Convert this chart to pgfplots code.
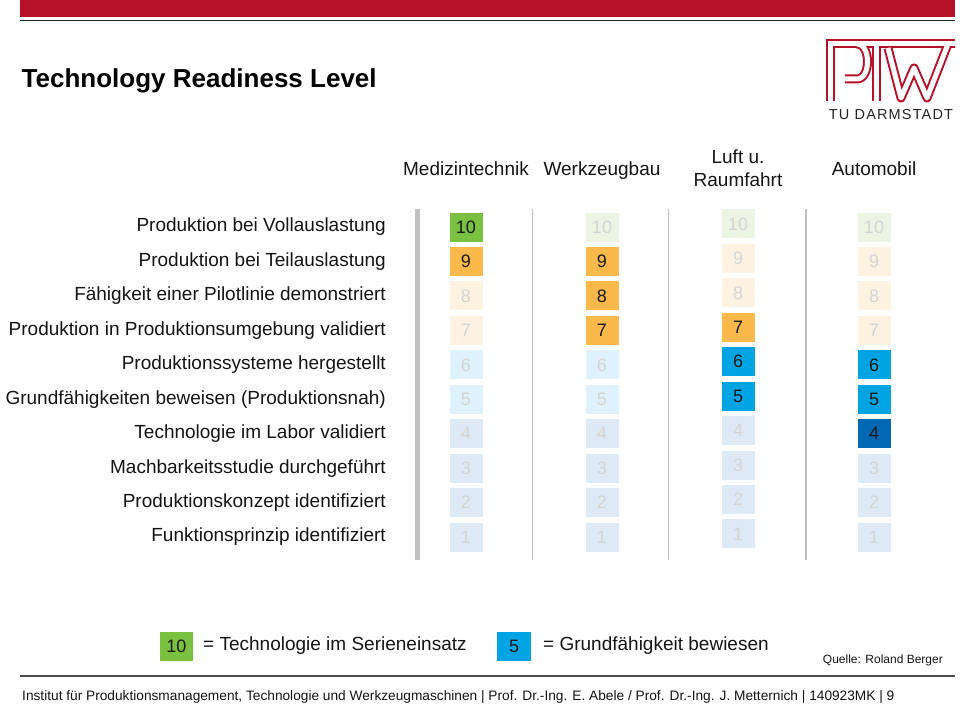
\documentclass[border=0pt]{standalone}
\usepackage{pgfplots}
\pgfplotsset{compat=1.18}
\usepackage{pgfplotstable}
\usepackage{fontspec}
\setmainfont{Liberation Sans}
\newfontfamily\tufont[LetterSpace=8]{Liberation Sans}
\definecolor{tured}{RGB}{181,18,42}
\definecolor{cg}{RGB}{122,193,66}
\definecolor{co}{RGB}{251,184,75}
\definecolor{cc}{RGB}{0,164,226}
\definecolor{cb}{RGB}{0,104,180}
\definecolor{cgf}{RGB}{236,245,228}
\definecolor{cof}{RGB}{254,243,226}
\definecolor{ccf}{RGB}{222,241,252}
\definecolor{cbf}{RGB}{221,233,244}
\definecolor{ftxt}{RGB}{212,212,212}
\definecolor{atxt}{RGB}{25,25,25}
\definecolor{sepc}{RGB}{192,192,192}
\definecolor{lbl}{RGB}{20,20,20}

% tiles: column, drawn position, level, colour class k
% k: 0 green, 1 orange, 2 cyan, 3 blue (active); 4-7 the same, faded
\pgfplotstableread{
col ypos level k
1 10 10 0
1 9 9 1
1 8 8 5
1 7 7 5
1 6 6 6
1 5 5 6
1 4 4 7
1 3 3 7
1 2 2 7
1 1 1 7
2 10 10 4
2 9 9 1
2 8 8 1
2 7 7 1
2 6 6 6
2 5 5 6
2 4 4 7
2 3 3 7
2 2 2 7
2 1 1 7
3 10.09 10 4
3 9.09 9 5
3 8.09 8 5
3 7.09 7 1
3 6.09 6 2
3 5.09 5 2
3 4.09 4 7
3 3.09 3 7
3 2.09 2 7
3 1.09 1 7
4 10 10 4
4 9 9 5
4 8 8 5
4 7 7 5
4 6 6 2
4 5 5 2
4 4 4 3
4 3 3 7
4 2 2 7
4 1 1 7
}\tiles

\pgfplotsset{tileplot/.style n args={3}{only marks, mark=none,
  x filter/.expression={\thisrow{k}==#1 ? x : nan},
  point meta=\thisrow{level},
  nodes near coords,
  every node near coord/.append style={anchor=center, inner sep=0pt,
    minimum width=33pt, minimum height=29pt, fill=#2, text=#3,
    font=\fontsize{18}{20}\selectfont}}}

\newcommand\logopaths[1]{%
  \draw[#1, line join=miter] (830pt,-101pt) -- (830pt,-44pt) -- (955pt,-44pt);
  \draw[#1, line join=round] (845pt,-79pt) -- (857pt,-79pt) .. controls (871pt,-79pt) and (871pt,-44pt) .. (857pt,-44pt);
  \draw[#1] (876pt,-44pt) -- (876pt,-101pt);
  \draw[#1, line join=round] (888pt,-48pt) -- (901pt,-98pt) -- (914pt,-68pt) -- (927pt,-98pt) -- (948pt,-44pt);}

\begin{document}
\begin{tikzpicture}
\useasboundingbox (0pt,0pt) rectangle (960pt,-706pt);
% header bar
\fill[tured] (20pt,0pt) rectangle (955pt,-17pt);
\draw[line width=1.6pt, black!85] (20pt,-20.5pt) -- (955pt,-20.5pt);
% title
\node[anchor=base west, inner sep=0pt, font=\fontsize{26}{30}\selectfont\bfseries] at (21.5pt,-88pt) {Technology Readiness Level};
% logo (outlined strokes)
\logopaths{tured, line width=9pt, line cap=butt}
\logopaths{white, line width=5pt, line cap=butt}
\node[anchor=base, inner sep=0pt, font=\tufont\fontsize{14.5}{16}\selectfont, text=black!85] at (891pt,-120pt) {TU DARMSTADT};
% separators
\draw[sepc, line width=5pt] (417.5pt,-209pt) -- (417.5pt,-560pt);
\draw[sepc, line width=1.8pt] (532.5pt,-209pt) -- (532.5pt,-560pt);
\draw[sepc, line width=1.8pt] (668.5pt,-209pt) -- (668.5pt,-560pt);
\draw[sepc, line width=1.8pt] (806pt,-209pt) -- (806pt,-560pt);
% two-line column header
\node[align=center, anchor=center, inner sep=0pt, font=\fontsize{19}{23}\selectfont, text=lbl] at (738pt,-168.5pt) {Luft u.\\Raumfahrt};

\begin{axis}[
  at={(398pt,-554.22pt)}, anchor=south west,
  x=136pt, y=34.44pt,
  xmin=0.5, xmax=4.5, ymin=0.5, ymax=10.5,
  axis line style={draw=none}, tick style={draw=none},
  major tick length=0pt,
  clip=false,
  /pgf/number format/assume math mode=true,
  xtick={1,2,4},
  xticklabels={Medizintechnik,Werkzeugbau,Automobil},
  xticklabel pos=upper,
  xticklabel style={anchor=base, yshift=34.8pt, inner sep=0pt,
    font=\fontsize{19}{23}\selectfont, text=lbl},
  ytick={1,2,3,4,5,6,7,8,9,10},
  yticklabels={Funktionsprinzip identifiziert,Produktionskonzept identifiziert,Machbarkeitsstudie durchgeführt,Technologie im Labor validiert,Grundfähigkeiten beweisen (Produktionsnah),Produktionssysteme hergestellt,Produktion in Produktionsumgebung validiert,Fähigkeit einer Pilotlinie demonstriert,Produktion bei Teilauslastung,Produktion bei Vollauslastung},
  yticklabel style={anchor=east, inner sep=0pt, xshift=-12pt,
    font=\fontsize{19}{23}\selectfont, text=lbl},
]
\addplot[tileplot={4}{cgf}{ftxt}] table[x=col, y=ypos] {\tiles};
\addplot[tileplot={5}{cof}{ftxt}] table[x=col, y=ypos] {\tiles};
\addplot[tileplot={6}{ccf}{ftxt}] table[x=col, y=ypos] {\tiles};
\addplot[tileplot={7}{cbf}{ftxt}] table[x=col, y=ypos] {\tiles};
\addplot[tileplot={0}{cg}{atxt}] table[x=col, y=ypos] {\tiles};
\addplot[tileplot={1}{co}{atxt}] table[x=col, y=ypos] {\tiles};
\addplot[tileplot={2}{cc}{atxt}] table[x=col, y=ypos] {\tiles};
\addplot[tileplot={3}{cb}{atxt}] table[x=col, y=ypos] {\tiles};
\end{axis}

% legend
\fill[cg] (160pt,-632pt) rectangle (193pt,-661pt);
\node[anchor=center, inner sep=0pt, font=\fontsize{18}{20}\selectfont, text=atxt] at (176.5pt,-646.5pt) {10};
\node[anchor=west, inner sep=0pt, font=\fontsize{19}{23}\selectfont, text=lbl] at (203pt,-646pt) {= Technologie im Serieneinsatz};
\fill[cc] (497pt,-632pt) rectangle (531pt,-661pt);
\node[anchor=center, inner sep=0pt, font=\fontsize{18}{20}\selectfont, text=atxt] at (514pt,-646.5pt) {5};
\node[anchor=west, inner sep=0pt, font=\fontsize{19}{23}\selectfont, text=lbl] at (543pt,-646pt) {= Grundfähigkeit bewiesen};
\node[anchor=east, inner sep=0pt, font=\fontsize{12}{14}\selectfont, text=lbl] at (943pt,-660pt) {Quelle: Roland Berger};
% footer
\draw[line width=1.5pt, black!70] (20pt,-676pt) -- (955pt,-676pt);
\node[anchor=west, inner sep=0pt, font=\fontsize{13.7}{15}\selectfont, text=lbl] at (22pt,-697pt) {Institut für Produktionsmanagement, Technologie und Werkzeugmaschinen | Prof. Dr.-Ing. E. Abele / Prof. Dr.-Ing. J. Metternich | 140923MK | 9};
\end{tikzpicture}
\end{document}
